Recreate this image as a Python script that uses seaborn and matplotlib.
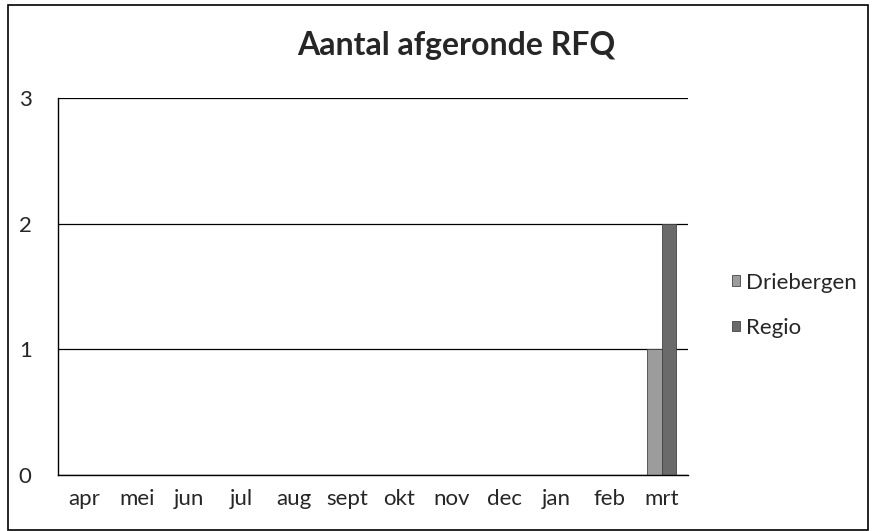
import matplotlib
matplotlib.use("Agg")
import matplotlib.pyplot as plt
import matplotlib.patches as mpatches
import seaborn as sns
import pandas as pd

months = ["apr", "mei", "jun", "jul", "aug", "sept", "okt", "nov", "dec", "jan", "feb", "mrt"]
driebergen = [0, 0, 0, 0, 0, 0, 0, 0, 0, 0, 0, 1]
regio = [0, 0, 0, 0, 0, 0, 0, 0, 0, 0, 0, 2]
series_names = ["Driebergen", "Regio"]
colors = ["#9c9c9c", "#6a6a6a"]
title = "Aantal afgeronde RFQ"

df = pd.DataFrame({
    "maand": months * 2,
    "aantal": driebergen + regio,
    "reeks": [series_names[0]] * len(months) + [series_names[1]] * len(months),
})

sns.set_style("white")
plt.rcParams['font.family'] = ['Lato', 'DejaVu Sans']

fig = plt.figure(figsize=(8.73, 5.31), dpi=100)
ax = fig.add_axes([58/873, 1-475/531, (688-58)/873, (475-98)/531])

sns.barplot(data=df, x="maand", y="aantal", hue="reeks", order=months,
            hue_order=series_names, palette=colors, width=0.55, ax=ax,
            edgecolor="#444444", linewidth=0.6, legend=True)

ax.set_ylim(0, 3)
ax.set_xlim(-0.5, len(months) - 0.5)
ax.set_yticks([0, 1, 2, 3])
ax.yaxis.grid(True, color="black", linewidth=0.9)
ax.set_axisbelow(True)
ax.set_xlabel("")
ax.set_ylabel("")
for s in ["top", "right"]:
    ax.spines[s].set_visible(False)
for s in ["left", "bottom"]:
    ax.spines[s].set_color("black")
    ax.spines[s].set_linewidth(1.0)

ax.set_xticks(range(len(months)))
ax.set_xticklabels(months, fontsize=16)
ax.tick_params(axis="x", length=0, pad=10)
ax.set_xticks([i - 0.5 for i in range(len(months) + 1)], minor=True)
ax.tick_params(axis="x", which="minor", length=7, width=1, color="black", direction="out")
ax.tick_params(axis="y", length=7, width=1, color="black", direction="out", labelsize=16, pad=12)

leg = ax.legend(loc="center left", frameon=False, fontsize=16, handlelength=0.35,
                handleheight=0.35, labelspacing=1.15, handletextpad=0.3,
                borderpad=0, borderaxespad=0)
leg.set_bbox_to_anchor((1.0 + 44/630, 0.45), transform=ax.transAxes)

fig.text(456/873, 1-45/531, title, ha="center", va="center", fontsize=23, fontweight="bold")

border = mpatches.Rectangle((8/873, 1-530/531), (868-8)/873, (530-5)/531,
                            transform=fig.transFigure, fill=False, edgecolor="black", linewidth=1.2)
fig.patches.append(border)

fig.savefig("out.png", dpi=100)
